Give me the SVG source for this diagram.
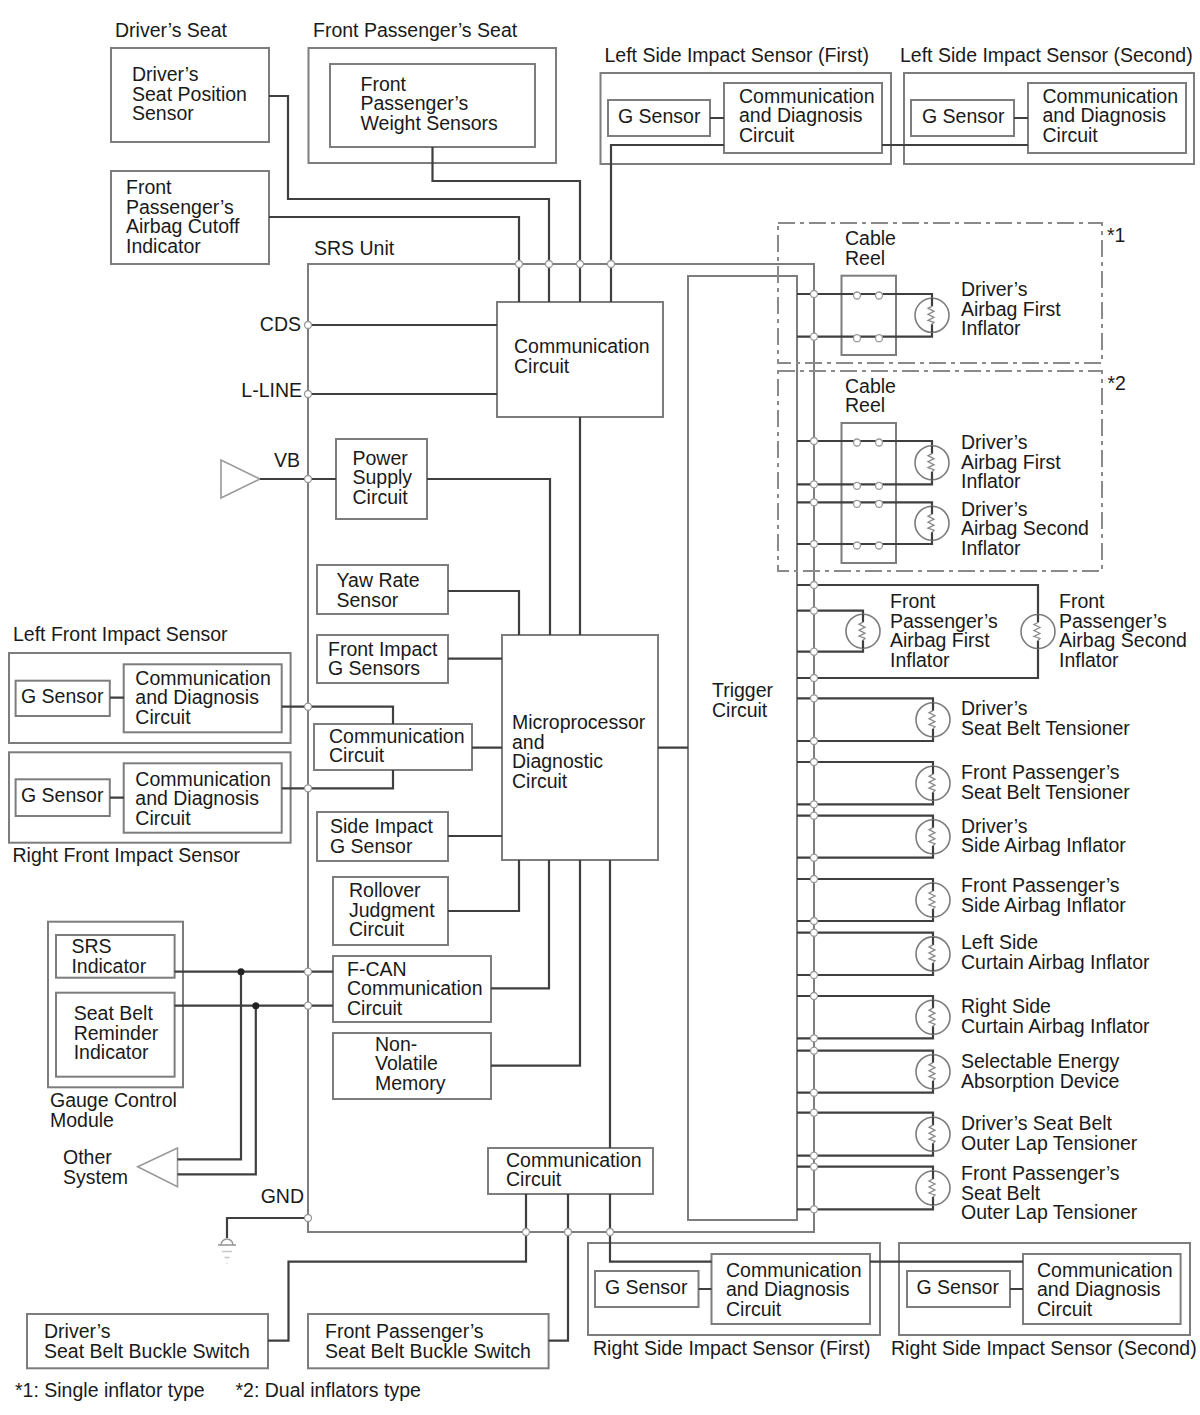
<svg xmlns="http://www.w3.org/2000/svg" xmlns:xlink="http://www.w3.org/1999/xlink" width="1200" height="1415" viewBox="0 0 1200 1415">
<style>
text{font-family:'Liberation Sans',Arial,sans-serif;font-size:19.5px;fill:#1a1a1a}
.b{fill:#fff;stroke:#7d7d7d;stroke-width:2}
.o{fill:none;stroke:#7d7d7d;stroke-width:2}
.d{fill:none;stroke:#8a8a8a;stroke-width:2;stroke-dasharray:17 5 4 5}
.w{fill:none;stroke:#3f3f3f;stroke-width:2.2}
.p{fill:#fff;stroke:#999;stroke-width:1.3}
.j{fill:#222}
.g{fill:none;stroke:#999;stroke-width:1.6}
</style>
<defs>
<g id="squib">
<circle r="17" fill="#fff" stroke="#7d7d7d" stroke-width="1.6"/>
<path d="M0,-17V-9M0,9V17" stroke="#3f3f3f" stroke-width="2.2" fill="none"/>
<path d="M0,-9L-4,-7L2,-4L-4,-1L2,2L-4,5L2,7L0,9" stroke="#8a8a8a" stroke-width="1.3" fill="none"/>
</g>
<circle id="pin" r="3.5" class="p"/>
<circle id="ct" r="3.5" class="p"/>
</defs>
<rect width="1200" height="1415" fill="#fff"/>

<g id="srs-unit">
<rect class="o" x="308" y="264" width="506" height="968"/>
<text x="314" y="255">SRS Unit</text>
<text x="301" y="331" text-anchor="end">CDS</text>
<text x="302" y="397" text-anchor="end">L-LINE</text>
<text x="300" y="467" text-anchor="end">VB</text>
<text x="304" y="1203" text-anchor="end">GND</text>
</g>

<g id="trigger-circuit">
<rect class="b" x="688" y="276" width="109" height="944"/>
<text x="712" y="697"><tspan x="712" dy="0">Trigger</tspan><tspan x="712" dy="19.5">Circuit</tspan></text>
</g>

<g id="drivers-seat">
<text x="115" y="37">Driver’s Seat</text>
<rect class="b" x="111" y="48" width="158" height="94"/>
<text x="132" y="81"><tspan x="132" dy="0">Driver’s</tspan><tspan x="132" dy="19.5">Seat Position</tspan><tspan x="132" dy="19.5">Sensor</tspan></text>
</g>

<g id="front-passenger-seat">
<text x="313" y="37">Front Passenger’s Seat</text>
<rect class="b" x="308.5" y="48" width="247.5" height="115"/>
<rect class="b" x="330" y="64" width="205" height="83"/>
<text x="360.5" y="90.5"><tspan x="360.5" dy="0">Front</tspan><tspan x="360.5" dy="19.5">Passenger’s</tspan><tspan x="360.5" dy="19.5">Weight Sensors</tspan></text>
</g>

<g id="airbag-cutoff-indicator">
<rect class="b" x="111" y="171" width="158" height="93"/>
<text x="126" y="194.3"><tspan x="126" dy="0">Front</tspan><tspan x="126" dy="19.5">Passenger’s</tspan><tspan x="126" dy="19.5">Airbag Cutoff</tspan><tspan x="126" dy="19.5">Indicator</tspan></text>
</g>

<g id="left-side-impact-first">
<text x="604.5" y="61.7">Left Side Impact Sensor (First)</text>
<rect class="b" x="600.5" y="73" width="290.5" height="91"/>
<rect class="b" x="608" y="100" width="102" height="36"/>
<text x="618" y="123">G Sensor</text>
<rect class="b" x="724" y="83" width="158" height="70"/>
<text x="739" y="102.7"><tspan x="739" dy="0">Communication</tspan><tspan x="739" dy="19.5">and Diagnosis</tspan><tspan x="739" dy="19.5">Circuit</tspan></text>
</g>

<g id="left-side-impact-second">
<text x="900" y="61.7">Left Side Impact Sensor (Second)</text>
<rect class="b" x="904" y="73" width="290" height="91"/>
<rect class="b" x="911" y="100" width="103" height="36"/>
<text x="922" y="123">G Sensor</text>
<rect class="b" x="1028" y="83" width="158" height="70"/>
<text x="1042.5" y="102.7"><tspan x="1042.5" dy="0">Communication</tspan><tspan x="1042.5" dy="19.5">and Diagnosis</tspan><tspan x="1042.5" dy="19.5">Circuit</tspan></text>
</g>

<g id="communication-circuit-top">
<rect class="b" x="497" y="302" width="166" height="115"/>
<text x="514" y="353"><tspan x="514" dy="0">Communication</tspan><tspan x="514" dy="19.5">Circuit</tspan></text>
</g>

<g id="power-supply-circuit">
<rect class="b" x="336" y="439" width="91" height="80"/>
<text x="352.5" y="464.5"><tspan x="352.5" dy="0">Power</tspan><tspan x="352.5" dy="19.5">Supply</tspan><tspan x="352.5" dy="19.5">Circuit</tspan></text>
</g>

<g id="vb-terminal">
<polygon class="g" points="221,460 221,498 260,479" stroke="#888"/>
</g>

<g id="yaw-rate-sensor">
<rect class="b" x="317" y="565" width="131" height="49"/>
<text x="336.5" y="587"><tspan x="336.5" dy="0">Yaw Rate</tspan><tspan x="336.5" dy="19.5">Sensor</tspan></text>
</g>

<g id="front-impact-g-sensors">
<rect class="b" x="317" y="635" width="131" height="48"/>
<text x="328" y="655.5"><tspan x="328" dy="0">Front Impact</tspan><tspan x="328" dy="19.5">G Sensors</tspan></text>
</g>

<g id="communication-circuit-mid">
<rect class="b" x="314" y="724" width="158" height="46"/>
<text x="329" y="742.8"><tspan x="329" dy="0">Communication</tspan><tspan x="329" dy="19.5">Circuit</tspan></text>
</g>

<g id="side-impact-g-sensor">
<rect class="b" x="317" y="812" width="131" height="49"/>
<text x="330" y="833"><tspan x="330" dy="0">Side Impact</tspan><tspan x="330" dy="19.5">G Sensor</tspan></text>
</g>

<g id="microprocessor">
<rect class="b" x="502" y="635" width="156" height="225"/>
<text x="512" y="729"><tspan x="512" dy="0">Microprocessor</tspan><tspan x="512" dy="19.5">and</tspan><tspan x="512" dy="19.5">Diagnostic</tspan><tspan x="512" dy="19.5">Circuit</tspan></text>
</g>

<g id="rollover-judgment">
<rect class="b" x="333" y="877" width="115" height="68"/>
<text x="349" y="897"><tspan x="349" dy="0">Rollover</tspan><tspan x="349" dy="19.5">Judgment</tspan><tspan x="349" dy="19.5">Circuit</tspan></text>
</g>

<g id="f-can">
<rect class="b" x="333" y="956" width="158" height="66"/>
<text x="347" y="975.7"><tspan x="347" dy="0">F-CAN</tspan><tspan x="347" dy="19.5">Communication</tspan><tspan x="347" dy="19.5">Circuit</tspan></text>
</g>

<g id="non-volatile-memory">
<rect class="b" x="333" y="1033" width="158" height="66"/>
<text x="375" y="1050.5"><tspan x="375" dy="0">Non-</tspan><tspan x="375" dy="19.5">Volatile</tspan><tspan x="375" dy="19.5">Memory</tspan></text>
</g>

<g id="communication-circuit-bottom">
<rect class="b" x="488" y="1148" width="165" height="46"/>
<text x="506" y="1166.5"><tspan x="506" dy="0">Communication</tspan><tspan x="506" dy="19.5">Circuit</tspan></text>
</g>

<g id="left-front-impact-sensor">
<text x="13" y="641">Left Front Impact Sensor</text>
<rect class="b" x="9" y="653" width="281.6" height="90"/>
<rect class="b" x="15.6" y="680.7" width="94.2" height="35.3"/>
<text x="21" y="703.3">G Sensor</text>
<rect class="b" x="123.7" y="664.3" width="158" height="68"/>
<text x="135.3" y="684.8"><tspan x="135.3" dy="0">Communication</tspan><tspan x="135.3" dy="19.5">and Diagnosis</tspan><tspan x="135.3" dy="19.5">Circuit</tspan></text>
</g>

<g id="right-front-impact-sensor">
<rect class="b" x="9" y="752.3" width="281.6" height="90.4"/>
<rect class="b" x="15.6" y="779.3" width="94.2" height="36.7"/>
<text x="21" y="801.7">G Sensor</text>
<rect class="b" x="123.7" y="763.3" width="158" height="69.4"/>
<text x="135.3" y="785.7"><tspan x="135.3" dy="0">Communication</tspan><tspan x="135.3" dy="19.5">and Diagnosis</tspan><tspan x="135.3" dy="19.5">Circuit</tspan></text>
<text x="12.5" y="861.7">Right Front Impact Sensor</text>
</g>

<g id="gauge-control-module">
<rect class="b" x="48" y="921.7" width="135" height="165.6"/>
<rect class="b" x="56" y="935" width="118.6" height="42.7"/>
<text x="71.4" y="953.3"><tspan x="71.4" dy="0">SRS</tspan><tspan x="71.4" dy="20">Indicator</tspan></text>
<rect class="b" x="56" y="992.7" width="118.6" height="84"/>
<text x="73.7" y="1020"><tspan x="73.7" dy="0">Seat Belt</tspan><tspan x="73.7" dy="19.5">Reminder</tspan><tspan x="73.7" dy="19.5">Indicator</tspan></text>
<text x="50" y="1107.3"><tspan x="50" dy="0">Gauge Control</tspan><tspan x="50" dy="19.5">Module</tspan></text>
</g>

<g id="other-system">
<polygon class="g" points="137.7,1166.7 177.5,1148 177.5,1186.7" stroke="#888"/>
<text x="63" y="1164"><tspan x="63" dy="0">Other</tspan><tspan x="63" dy="20">System</tspan></text>
</g>

<g id="ground">
<path class="g" d="M221,1245a6,6 0 0 1 12,0"/>
<path d="M218,1245H236" stroke="#999" stroke-width="1.6"/>
<path d="M222,1251.5H232M224.5,1257.5H229.5M226.5,1263.5H227.5" stroke="#c8c8c8" stroke-width="1.6"/>
</g>

<g id="drivers-buckle-switch">
<rect class="b" x="27" y="1314" width="241" height="54.3"/>
<text x="44" y="1338.3"><tspan x="44" dy="0">Driver’s</tspan><tspan x="44" dy="20">Seat Belt Buckle Switch</tspan></text>
</g>

<g id="fp-buckle-switch">
<rect class="b" x="308" y="1314" width="240.6" height="54.3"/>
<text x="325" y="1338.3"><tspan x="325" dy="0">Front Passenger’s</tspan><tspan x="325" dy="20">Seat Belt Buckle Switch</tspan></text>
</g>

<g id="right-side-impact-first">
<rect class="b" x="588" y="1243" width="292" height="92"/>
<rect class="b" x="595" y="1271" width="103.5" height="36"/>
<text x="605" y="1294">G Sensor</text>
<rect class="b" x="711.5" y="1254" width="158.5" height="70"/>
<text x="726" y="1276.5"><tspan x="726" dy="0">Communication</tspan><tspan x="726" dy="19.5">and Diagnosis</tspan><tspan x="726" dy="19.5">Circuit</tspan></text>
<text x="593" y="1355">Right Side Impact Sensor (First)</text>
</g>

<g id="right-side-impact-second">
<rect class="b" x="899" y="1243" width="291" height="92"/>
<rect class="b" x="907" y="1271" width="103" height="36"/>
<text x="916.5" y="1294">G Sensor</text>
<rect class="b" x="1023" y="1254" width="157.6" height="70"/>
<text x="1037" y="1276.5"><tspan x="1037" dy="0">Communication</tspan><tspan x="1037" dy="19.5">and Diagnosis</tspan><tspan x="1037" dy="19.5">Circuit</tspan></text>
<text x="891" y="1355">Right Side Impact Sensor (Second)</text>
</g>

<g id="cable-reel-1">
<rect class="d" x="778" y="223" width="324" height="140"/>
<text x="1107" y="241.7">*1</text>
<text x="845" y="245"><tspan x="845" dy="0">Cable</tspan><tspan x="845" dy="19.5">Reel</tspan></text>
<rect class="b" x="841.5" y="275.7" width="54.5" height="79.3"/>
</g>

<g id="cable-reel-2">
<rect class="d" x="778" y="371" width="324" height="200"/>
<text x="1107.5" y="390">*2</text>
<text x="845" y="392.7"><tspan x="845" dy="0">Cable</tspan><tspan x="845" dy="19.7">Reel</tspan></text>
<rect class="b" x="841.5" y="423" width="54.5" height="140"/>
</g>

<g id="connectors">
<path class="w" d="M269,96H288V199H549V302"/>
<path class="w" d="M269,217H519V302"/>
<path class="w" d="M432.5,147V181H580V302"/>
<path class="w" d="M724,145H611V302"/>
<path class="w" d="M882,145H1028"/>
<path class="w" d="M710,118H724M1014,118H1028"/>
<path class="w" d="M308,325H497M308,394H497"/>
<path class="w" d="M260,479H336"/>
<path class="w" d="M427,479H550V635"/>
<path class="w" d="M448,591H519V635"/>
<path class="w" d="M580,417V635"/>
<path class="w" d="M448,658.7H502M472,747.7H502M448,836H502M658,747.7H688"/>
<path class="w" d="M281.7,706.7H393V724"/>
<path class="w" d="M281.7,788.3H393V770"/>
<path class="w" d="M110,697.7H124M110,797.7H124"/>
<path class="w" d="M519,860V911H448"/>
<path class="w" d="M549,860V988.3H491"/>
<path class="w" d="M580,860V1065.7H491"/>
<path class="w" d="M610,860V1148"/>
<path class="w" d="M174.6,971.7H333M174.6,1005.7H333"/>
<path class="w" d="M241,971.7V1159.3H177.5"/>
<path class="w" d="M255.8,1005.7V1174.3H177.5"/>
<path class="w" d="M308,1218H227V1238"/>
<path class="w" d="M526,1194V1261.7H288.5V1340.7H268"/>
<path class="w" d="M568,1194V1340.7H548.6"/>
<path class="w" d="M610,1194V1261.7H711.5"/>
<path class="w" d="M870,1261.7H1023"/>
<path class="w" d="M698.5,1289H711.5M1010,1289H1023"/>
<path class="w" d="M797,294H932V336.7H797"/>
<path class="w" d="M797,441H932V484.3H797"/>
<path class="w" d="M797,502.3H932V544H797"/>
<path class="w" d="M797,585H1038V678H797"/>
<path class="w" d="M797,610.7H863V651.7H797"/>
<path class="w" d="M797,698.3H933V741H797"/>
<path class="w" d="M797,762H933V804.3H797"/>
<path class="w" d="M797,815.7H933V857.7H797"/>
<path class="w" d="M797,879H933V921H797"/>
<path class="w" d="M797,932.7H933V975H797"/>
<path class="w" d="M797,996H933V1038.3H797"/>
<path class="w" d="M797,1050.7H933V1092.7H797"/>
<path class="w" d="M797,1112.7H933V1155.7H797"/>
<path class="w" d="M797,1166.7H933V1209.3H797"/>
<circle class="j" cx="241" cy="971.7" r="3.5"/>
<circle class="j" cx="255.8" cy="1005.7" r="3.5"/>
</g>

<g id="cable-reel-contacts">
<use xlink:href="#ct" x="857" y="295.5"/><use xlink:href="#ct" x="879" y="295.5"/>
<use xlink:href="#ct" x="857" y="338.2"/><use xlink:href="#ct" x="879" y="338.2"/>
<use xlink:href="#ct" x="857" y="442.5"/><use xlink:href="#ct" x="879" y="442.5"/>
<use xlink:href="#ct" x="857" y="485.8"/><use xlink:href="#ct" x="879" y="485.8"/>
<use xlink:href="#ct" x="857" y="503.8"/><use xlink:href="#ct" x="879" y="503.8"/>
<use xlink:href="#ct" x="857" y="545.5"/><use xlink:href="#ct" x="879" y="545.5"/>
</g>

<g id="connector-pins">
<use xlink:href="#pin" x="519" y="264"/><use xlink:href="#pin" x="549" y="264"/>
<use xlink:href="#pin" x="580" y="264"/><use xlink:href="#pin" x="611" y="264"/>
<use xlink:href="#pin" x="308" y="325"/><use xlink:href="#pin" x="308" y="394"/>
<use xlink:href="#pin" x="308" y="479"/><use xlink:href="#pin" x="308" y="706.7"/>
<use xlink:href="#pin" x="308" y="788.3"/><use xlink:href="#pin" x="308" y="971.7"/>
<use xlink:href="#pin" x="308" y="1005.7"/><use xlink:href="#pin" x="308" y="1218"/>
<use xlink:href="#pin" x="526" y="1232"/><use xlink:href="#pin" x="568" y="1232"/>
<use xlink:href="#pin" x="610" y="1232"/>
<use xlink:href="#pin" x="814" y="294"/><use xlink:href="#pin" x="814" y="336.7"/>
<use xlink:href="#pin" x="814" y="441"/><use xlink:href="#pin" x="814" y="484.3"/>
<use xlink:href="#pin" x="814" y="502.3"/><use xlink:href="#pin" x="814" y="544"/>
<use xlink:href="#pin" x="814" y="585"/><use xlink:href="#pin" x="814" y="610.7"/>
<use xlink:href="#pin" x="814" y="651.7"/><use xlink:href="#pin" x="814" y="678"/>
<use xlink:href="#pin" x="814" y="698.3"/><use xlink:href="#pin" x="814" y="741"/>
<use xlink:href="#pin" x="814" y="762"/><use xlink:href="#pin" x="814" y="804.3"/>
<use xlink:href="#pin" x="814" y="815.7"/><use xlink:href="#pin" x="814" y="857.7"/>
<use xlink:href="#pin" x="814" y="879"/><use xlink:href="#pin" x="814" y="921"/>
<use xlink:href="#pin" x="814" y="932.7"/><use xlink:href="#pin" x="814" y="975"/>
<use xlink:href="#pin" x="814" y="996"/><use xlink:href="#pin" x="814" y="1038.3"/>
<use xlink:href="#pin" x="814" y="1050.7"/><use xlink:href="#pin" x="814" y="1092.7"/>
<use xlink:href="#pin" x="814" y="1112.7"/><use xlink:href="#pin" x="814" y="1155.7"/>
<use xlink:href="#pin" x="814" y="1166.7"/><use xlink:href="#pin" x="814" y="1209.3"/>
</g>

<g id="inflator-drv-airbag-first-1">
<use xlink:href="#squib" x="932" y="315.3"/>
<text x="961" y="296"><tspan x="961" dy="0">Driver’s</tspan><tspan x="961" dy="19.5">Airbag First</tspan><tspan x="961" dy="19.5">Inflator</tspan></text>
</g>
<g id="inflator-drv-airbag-first-2">
<use xlink:href="#squib" x="932" y="462.7"/>
<text x="961" y="449.3"><tspan x="961" dy="0">Driver’s</tspan><tspan x="961" dy="19.5">Airbag First</tspan><tspan x="961" dy="19.5">Inflator</tspan></text>
</g>
<g id="inflator-drv-airbag-second">
<use xlink:href="#squib" x="932" y="523.2"/>
<text x="961" y="515.5"><tspan x="961" dy="0">Driver’s</tspan><tspan x="961" dy="19.5">Airbag Second</tspan><tspan x="961" dy="19.5">Inflator</tspan></text>
</g>
<g id="inflator-fp-airbag-first">
<use xlink:href="#squib" x="863" y="631.2"/>
<text x="890" y="608.3"><tspan x="890" dy="0">Front</tspan><tspan x="890" dy="19.5">Passenger’s</tspan><tspan x="890" dy="19.5">Airbag First</tspan><tspan x="890" dy="19.5">Inflator</tspan></text>
</g>
<g id="inflator-fp-airbag-second">
<use xlink:href="#squib" x="1038" y="631.5"/>
<text x="1059" y="608.3"><tspan x="1059" dy="0">Front</tspan><tspan x="1059" dy="19.5">Passenger’s</tspan><tspan x="1059" dy="19.5">Airbag Second</tspan><tspan x="1059" dy="19.5">Inflator</tspan></text>
</g>
<g id="drv-seat-belt-tensioner">
<use xlink:href="#squib" x="933" y="719.7"/>
<text x="961" y="715"><tspan x="961" dy="0">Driver’s</tspan><tspan x="961" dy="20">Seat Belt Tensioner</tspan></text>
</g>
<g id="fp-seat-belt-tensioner">
<use xlink:href="#squib" x="933" y="783.2"/>
<text x="961" y="779.3"><tspan x="961" dy="0">Front Passenger’s</tspan><tspan x="961" dy="19.7">Seat Belt Tensioner</tspan></text>
</g>
<g id="drv-side-airbag">
<use xlink:href="#squib" x="933" y="836.7"/>
<text x="961" y="832.5"><tspan x="961" dy="0">Driver’s</tspan><tspan x="961" dy="19.5">Side Airbag Inflator</tspan></text>
</g>
<g id="fp-side-airbag">
<use xlink:href="#squib" x="933" y="900"/>
<text x="961" y="892.2"><tspan x="961" dy="0">Front Passenger’s</tspan><tspan x="961" dy="19.5">Side Airbag Inflator</tspan></text>
</g>
<g id="left-curtain-airbag">
<use xlink:href="#squib" x="933" y="953.9"/>
<text x="961" y="949.3"><tspan x="961" dy="0">Left Side</tspan><tspan x="961" dy="19.7">Curtain Airbag Inflator</tspan></text>
</g>
<g id="right-curtain-airbag">
<use xlink:href="#squib" x="933" y="1017.2"/>
<text x="961" y="1013.3"><tspan x="961" dy="0">Right Side</tspan><tspan x="961" dy="20">Curtain Airbag Inflator</tspan></text>
</g>
<g id="selectable-energy-absorption">
<use xlink:href="#squib" x="933" y="1071.7"/>
<text x="961" y="1068.3"><tspan x="961" dy="0">Selectable Energy</tspan><tspan x="961" dy="20">Absorption Device</tspan></text>
</g>
<g id="drv-outer-lap-tensioner">
<use xlink:href="#squib" x="933" y="1134.2"/>
<text x="961" y="1130"><tspan x="961" dy="0">Driver’s Seat Belt</tspan><tspan x="961" dy="20">Outer Lap Tensioner</tspan></text>
</g>
<g id="fp-outer-lap-tensioner">
<use xlink:href="#squib" x="933" y="1188"/>
<text x="961" y="1180"><tspan x="961" dy="0">Front Passenger’s</tspan><tspan x="961" dy="19.5">Seat Belt</tspan><tspan x="961" dy="19.5">Outer Lap Tensioner</tspan></text>
</g>

<g id="footnotes">
<text x="15" y="1396.7">*1: Single inflator type</text>
<text x="235.5" y="1396.7">*2: Dual inflators type</text>
</g>
</svg>
